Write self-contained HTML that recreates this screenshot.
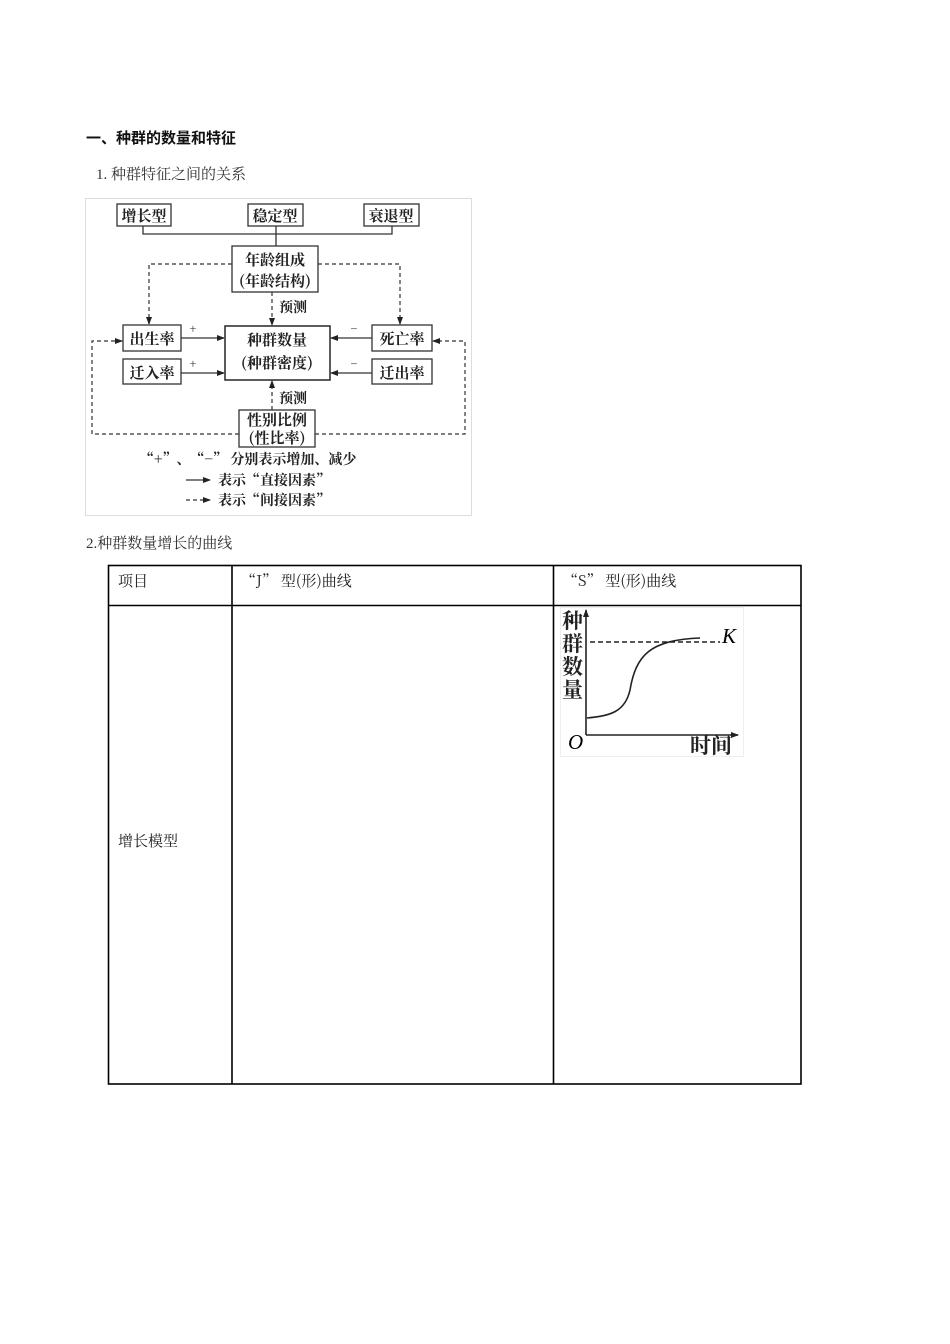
<!DOCTYPE html>
<html><head><meta charset="utf-8"><style>
body{margin:0;background:#fff;width:950px;height:1344px;position:relative;font-family:"Liberation Serif","Noto Serif CJK SC","Noto Sans CJK SC",serif;color:#111}
.t{position:absolute;white-space:nowrap}
</style></head><body>
<div class="t" style="left:86px;top:127px;font-size:15px;font-weight:bold;font-family:'Liberation Sans','Noto Sans CJK SC',sans-serif">一、种群的数量和特征</div>
<div class="t" style="left:96px;top:163px;font-size:15px;color:#333">1. 种群特征之间的关系</div>
<div class="t" style="left:86px;top:532px;font-size:15px;color:#333">2.种群数量增长的曲线</div>

<svg width="950" height="1344" style="position:absolute;left:0;top:0" xmlns="http://www.w3.org/2000/svg">
<defs>
<marker id="a" markerWidth="8" markerHeight="8" refX="7" refY="4" orient="auto" markerUnits="userSpaceOnUse"><path d="M0,1 L8,4 L0,7 z" fill="#222"/></marker>
</defs>
<rect x="85.5" y="198.5" width="386" height="317" fill="none" stroke="#ddd"/>
<g fill="none" stroke="#333" stroke-width="1.3">
<rect x="117" y="204" width="54" height="22"/>
<rect x="248" y="204" width="55" height="22"/>
<rect x="364" y="204" width="55" height="22"/>
<path d="M143,226 V234 H392 V226 M276,226 V246"/>
<rect x="232" y="246" width="86" height="46"/>
<rect x="225" y="326" width="105" height="54" stroke-width="1.6"/>
<rect x="123" y="325" width="58" height="26"/>
<rect x="123" y="359" width="58" height="25"/>
<rect x="372" y="325" width="60" height="26"/>
<rect x="372" y="359" width="60" height="25"/>
<rect x="239" y="410" width="76" height="37"/>
<path d="M181,338 H224" marker-end="url(#a)"/>
<path d="M181,373 H224" marker-end="url(#a)"/>
<path d="M372,338 H331" marker-end="url(#a)"/>
<path d="M372,373 H331" marker-end="url(#a)"/>
<path d="M186,480 H210" marker-end="url(#a)"/>
</g>
<g fill="none" stroke="#333" stroke-width="1.2" stroke-dasharray="4,3">
<path d="M232,264 H149 V324" marker-end="url(#a)"/>
<path d="M318,264 H400 V324" marker-end="url(#a)"/>
<path d="M272,292 V325" marker-end="url(#a)"/>
<path d="M272,410 V381" marker-end="url(#a)"/>
<path d="M239,434 H92 V341 H122" marker-end="url(#a)"/>
<path d="M315,434 H465 V341 H433" marker-end="url(#a)"/>
<path d="M186,500 H210" marker-end="url(#a)"/>
</g>
<g font-size="15" font-weight="bold" fill="#222" font-family="'Noto Serif CJK SC','Noto Sans CJK SC',serif" text-anchor="middle">
<text x="144" y="221">增长型</text>
<text x="275" y="221">稳定型</text>
<text x="391" y="221">衰退型</text>
<text x="275" y="265">年龄组成</text>
<text x="275" y="286">(年龄结构)</text>
<text x="277" y="345">种群数量</text>
<text x="277" y="368">(种群密度)</text>
<text x="152" y="344">出生率</text>
<text x="152" y="378">迁入率</text>
<text x="402" y="344">死亡率</text>
<text x="402" y="378">迁出率</text>
<text x="277" y="425">性别比例</text>
<text x="277" y="443">(性比率)</text>
<text x="293" y="312" font-size="14">预测</text>
<text x="293" y="403" font-size="14">预测</text>
<text x="193" y="333" font-size="11">+</text>
<text x="193" y="368" font-size="11">+</text>
<text x="354" y="333" font-size="11">−</text>
<text x="354" y="368" font-size="11">−</text>
</g>
<g font-size="14" font-weight="bold" fill="#222" font-family="'Noto Serif CJK SC','Noto Sans CJK SC',serif">
<text x="140" y="464">“+”、“−” 分别表示增加、减少</text>
<text x="218" y="485">表示“直接因素”</text>
<text x="218" y="505">表示“间接因素”</text>
</g>
<g stroke="#000" stroke-width="1.6" fill="none">
<rect x="108.5" y="565.5" width="692.5" height="518.5"/>
<path d="M232,565 V1084 M553.5,565 V1084 M108,605.5 H801"/>
</g>
<g font-size="15" fill="#222" font-family="'Noto Serif CJK SC','Liberation Serif',serif">
<text x="118" y="586">项目</text>
<text x="241" y="586">“J” 型(形)曲线</text>
<text x="563" y="586">“S” 型(形)曲线</text>
<text x="118" y="846">增长模型</text>
</g>
<rect x="560.5" y="607.5" width="183" height="149" fill="none" stroke="#eee"/>
<g stroke="#222" stroke-width="1.6" fill="none">
<path d="M586,735 V610" marker-end="url(#a)"/>
<path d="M586,735 H738" marker-end="url(#a)"/>
<path d="M590,642 H720" stroke-dasharray="5,3"/>
<path d="M587,718 C610,716 625,712 630,690 C636,655 650,640 700,638"/>
</g>
<g font-size="21" font-weight="bold" fill="#222" font-family="'Noto Serif CJK SC',serif">
<text x="562" y="628">种</text>
<text x="562" y="651">群</text>
<text x="562" y="674">数</text>
<text x="562" y="697">量</text>
<text x="690" y="753">时间</text>
</g>
<text x="568" y="749" font-size="21" font-style="italic" font-family="'Liberation Serif',serif">O</text>
<text x="722" y="643" font-size="21" font-style="italic" font-family="'Liberation Serif',serif">K</text>
</svg>
</body></html>
